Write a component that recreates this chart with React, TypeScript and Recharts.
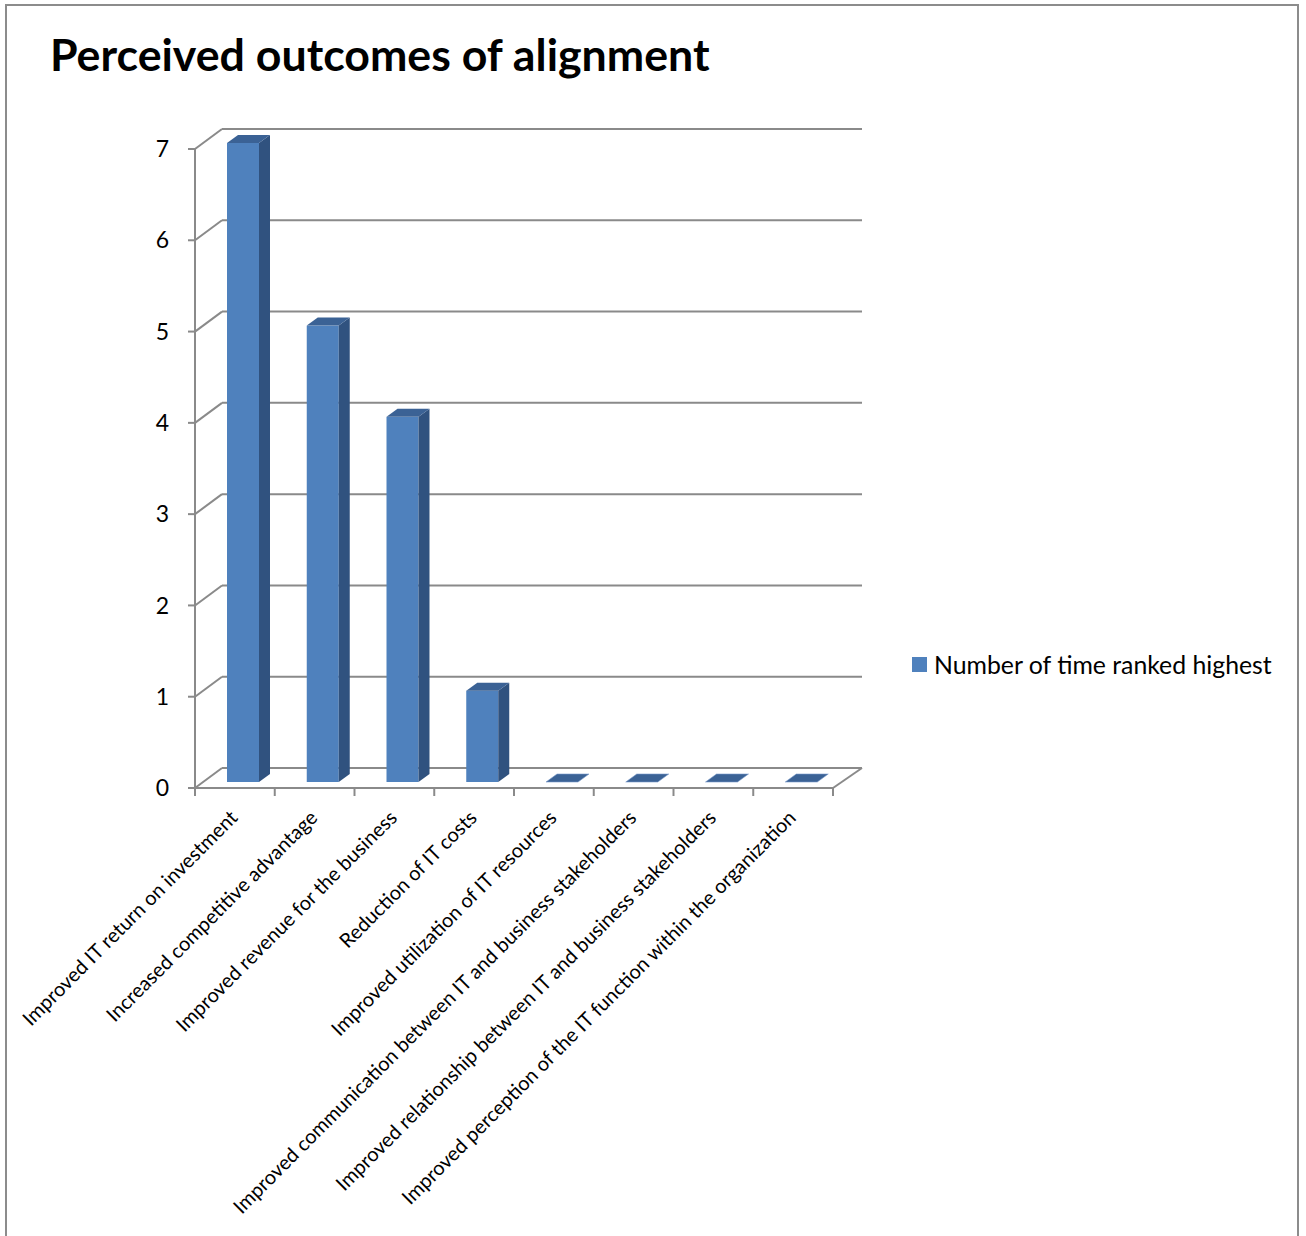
import { Bar, BarChart, CartesianGrid, XAxis, YAxis } from "recharts";

const OUTCOMES = [
  "Improved IT return on investment",
  "Increased competitive advantage",
  "Improved revenue for the business",
  "Reduction of IT costs",
  "Improved utilization of IT resources",
  "Improved communication between IT and business stakeholders",
  "Improved relationship between IT and business stakeholders",
  "Improved perception of the IT function within the organization",
];

const TIMES_RANKED_HIGHEST = [7, 5, 4, 1, 0, 0, 0, 0];

const Y_TICKS = [0, 1, 2, 3, 4, 5, 6, 7];

const SERIES_NAME = "Number of time ranked highest";

const data = OUTCOMES.map((name, i) => ({ name, value: TIMES_RANKED_HIGHEST[i] }));

const W = 1306;
const H = 1236;
const PLOT_LEFT = 195;
const PLOT_RIGHT = 833;
const PLOT_TOP = 149;
const PLOT_BOTTOM = 788;
const Y_AXIS_W = 60;
const X_AXIS_H = 300;

// floor / back wall depth, and the bar's own depth
const WALL_DX = 27;
const WALL_DY = -20;
const BAR_OX = 8;
const BAR_OY = -6;
const BAR_DX = 11;
const BAR_DY = -8;

const FONT = "Lato, Carlito, Calibri, sans-serif";
const GRID = "#8a8a8a";
const FRONT = "#4f81bd";
const SIDE = "#30527f";
const TOP = "#3b6295";

const HALF_BAND = (PLOT_RIGHT - PLOT_LEFT) / OUTCOMES.length / 2;

function GridLine(props: any) {
  const { x1, y1, x2 } = props;
  const isFloor = Math.abs(y1 - PLOT_BOTTOM) < 2;
  return (
    <g key={`g-${y1}`}>
      <line x1={x1} y1={y1} x2={x1 + WALL_DX} y2={y1 + WALL_DY} stroke={GRID} strokeWidth={2} />
      <line x1={x1 + WALL_DX} y1={y1 + WALL_DY} x2={x2 + WALL_DX + 2} y2={y1 + WALL_DY} stroke={GRID} strokeWidth={2} />
      {isFloor && (
        <line x1={x2} y1={y1} x2={x2 + WALL_DX + 2} y2={y1 + WALL_DY} stroke={GRID} strokeWidth={2} />
      )}
    </g>
  );
}

function Bar3D(props: any) {
  const { x, y, width, height } = props;
  const fx = x + BAR_OX;
  const fy = y + BAR_OY;
  const h = Math.max(height, 0);
  const top = `${fx},${fy} ${fx + BAR_DX},${fy + BAR_DY} ${fx + width + BAR_DX},${fy + BAR_DY} ${fx + width},${fy}`;
  const side = `${fx + width},${fy} ${fx + width + BAR_DX},${fy + BAR_DY} ${fx + width + BAR_DX},${fy + h + BAR_DY} ${fx + width},${fy + h}`;
  return (
    <g>
      {h > 0 && <rect x={fx} y={fy} width={width} height={h} fill={FRONT} />}
      {h > 0 && <polygon points={side} fill={SIDE} />}
      <polygon points={top} fill={TOP} stroke={h > 0 ? "none" : "#7a9ccc"} strokeWidth={0.6} />
    </g>
  );
}

function CategoryTick(props: any) {
  const { x, payload, index } = props;
  const last = index === OUTCOMES.length - 1;
  return (
    <g>
      <line x1={x - HALF_BAND} y1={PLOT_BOTTOM} x2={x - HALF_BAND} y2={PLOT_BOTTOM + 8} stroke={GRID} strokeWidth={2} />
      {last && (
        <line x1={x + HALF_BAND} y1={PLOT_BOTTOM} x2={x + HALF_BAND} y2={PLOT_BOTTOM + 8} stroke={GRID} strokeWidth={2} />
      )}
      <g transform={`translate(${x + 4},${PLOT_BOTTOM + 31})`}>
        <text transform="rotate(-45)" textAnchor="end" fontFamily={FONT} fontSize={20} fill="#000">
          {payload.value}
        </text>
      </g>
    </g>
  );
}

export default function App() {
  return (
    <div style={{ position: "absolute", left: 0, top: 0, width: W, height: H, background: "#fff", overflow: "hidden" }}>
      <div
        style={{
          position: "absolute",
          left: 5,
          top: 4,
          width: 1294,
          height: H + 20,
          border: "2px solid #8c8c8c",
          boxSizing: "border-box",
        }}
      />
      <svg style={{ position: "absolute", left: 0, top: 0 }} width={W} height={110}>
        <text x={50} y={71} fontFamily={FONT} fontWeight={700} fontSize={44.7} fill="#000">
          Perceived outcomes of alignment
        </text>
      </svg>
      <div style={{ position: "absolute", left: 0, top: 0 }}>
        <BarChart
          width={W}
          height={H}
          data={data}
          margin={{
            top: PLOT_TOP,
            right: W - PLOT_RIGHT,
            left: PLOT_LEFT - Y_AXIS_W,
            bottom: H - PLOT_BOTTOM - X_AXIS_H,
          }}
          barSize={32}
        >
          <CartesianGrid vertical={false} horizontal={GridLine} />
          <XAxis
            dataKey="name"
            interval={0}
            height={X_AXIS_H}
            tick={CategoryTick}
            tickLine={false}
            axisLine={{ stroke: GRID, strokeWidth: 2 }}
          />
          <YAxis
            domain={[0, 7]}
            ticks={Y_TICKS}
            width={Y_AXIS_W}
            tickSize={7}
            tickMargin={19}
            tick={{ fill: "#000", fontSize: 23, fontFamily: FONT }}
            tickLine={{ stroke: GRID, strokeWidth: 2 }}
            axisLine={{ stroke: GRID, strokeWidth: 2 }}
          />
          <Bar dataKey="value" name={SERIES_NAME} shape={Bar3D} isAnimationActive={false} />
        </BarChart>
      </div>
      <div
        style={{
          position: "absolute",
          left: 912,
          top: 650,
          display: "flex",
          alignItems: "center",
          fontFamily: FONT,
          fontSize: 24.8,
          color: "#000",
          whiteSpace: "nowrap",
        }}
      >
        <span style={{ width: 15, height: 15, background: FRONT, marginRight: 7, display: "inline-block" }} />
        <span>{SERIES_NAME}</span>
      </div>
    </div>
  );
}
